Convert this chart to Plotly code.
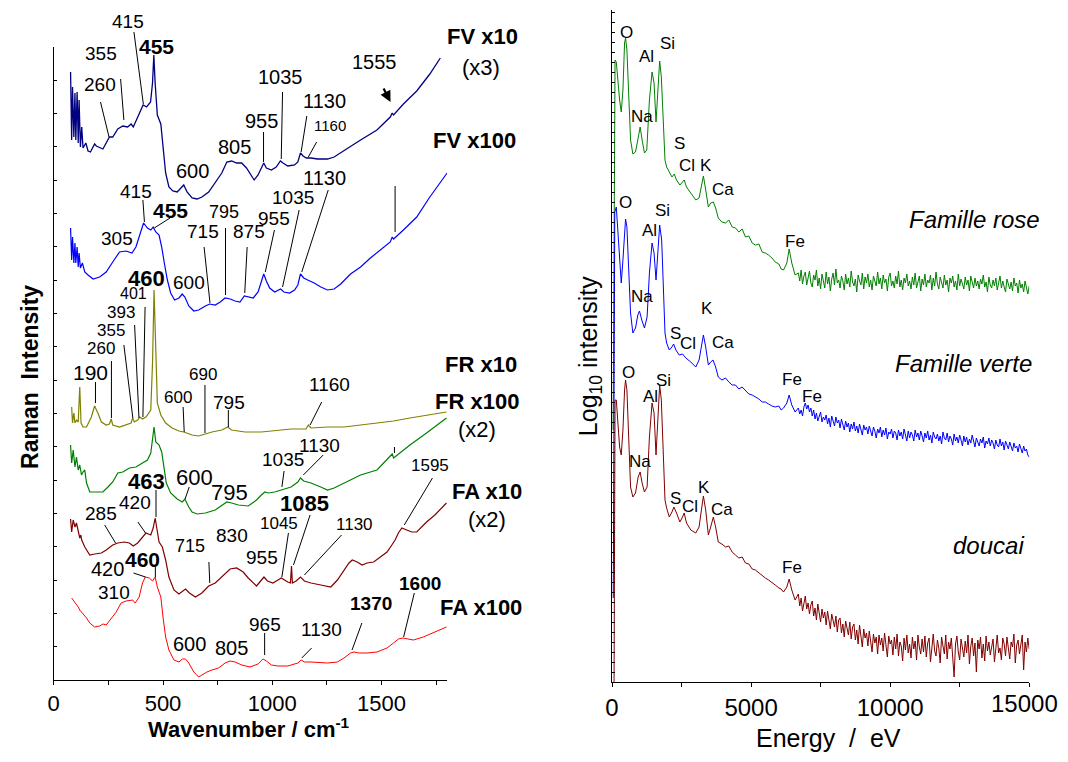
import plotly.graph_objects as go

FONT = "Liberation Sans, Arial, Helvetica, sans-serif"

# ---------------- Raman spectra (wavenumber / cm-1, intensity a.u. incl. offsets) ----------------
FV10_W = [77,82,86,92,97,101,107,112,116,122,128,134,147,157,168,187,195,225,255,270,
          293,316,338,354,364,384,409,425,443,452,458,464,474,490,500,512,527,545,565,580,
          595,610,633,656,678,709,739,769,792,814,837,860,882,898,917,935,950,961,973,996,
          1018,1037,1049,1071,1102,1117,1129,1141,1156,1177,1207,1253,1283,1328,1404,1479,1540,1549,1555,1600,
          1661,1721,1769]
FV10_I = [608,540,593,543,587,540,588,537,580,533,553,532,537,529,528,536,534,531,543,543,
          551,554,553,556,553,563,575,573,578,597,625,597,565,556,530,507,493,489,488,492,
          495,488,482,481,483,488,497,507,518,519,517,517,512,507,500,505,513,517,512,510,
          513,519,517,514,515,518,527,524,522,522,521,521,523,529,540,550,563,567,565,576,
          589,606,622]

FV100_W = [77,82,86,92,97,101,107,112,116,122,131,142,157,180,210,240,270,301,331,358,
           376,391,411,429,444,455,467,482,494,506,520,535,553,573,588,600,618,641,663,694,
           713,739,762,784,807,830,852,872,893,913,935,950,961,973,988,1011,1038,1053,1079,1102,
           1117,1129,1144,1162,1192,1222,1253,1283,1313,1358,1404,1449,1494,1540,1549,1555,1600,1661,1721,1800]
FV100_I = [452,420,443,417,437,417,433,413,427,412,417,408,405,401,403,408,418,428,429,427,
           433,443,457,452,450,453,448,445,433,417,400,387,380,382,386,383,374,369,370,374,
           376,375,378,382,381,379,378,384,383,382,388,400,406,399,392,388,391,388,387,390,
           395,406,402,400,397,393,390,391,396,406,413,422,430,438,443,441,450,463,483,507]

FR10_W = [82,86,92,97,104,112,119,125,134,150,172,187,202,218,240,255,263,270,301,331,
          354,361,369,384,394,406,422,444,452,459,467,474,490,512,542,573,595,633,663,691,
          724,769,796,814,875,950,1026,1086,1154,1165,1177,1253,1328,1404,1479,1555,1630,1706,1797]
FR10_I = [273,257,267,257,260,258,293,257,253,253,263,274,267,258,255,256,261,255,253,255,
          257,262,258,260,263,261,263,270,317,390,317,277,265,257,252,249,248,245,244,246,
          248,250,253,250,248,248,250,251,251,255,252,253,253,255,257,259,262,265,268]

FR100_W = [77,82,89,97,104,112,119,127,134,142,150,165,195,225,248,270,293,316,346,376,
           406,429,444,452,459,467,482,494,505,515,535,565,588,600,618,633,656,694,739,769,
           792,814,845,890,928,950,966,981,1011,1041,1086,1117,1129,1144,1177,1222,1253,1283,1328,1404,
           1479,1549,1555,1630,1706,1797]
FR100_I = [235,217,230,213,223,210,215,205,208,210,197,188,188,188,193,198,207,208,212,213,
           217,220,227,240,253,238,235,228,210,197,187,181,178,181,173,168,166,167,170,175,
           178,177,175,174,180,185,188,187,188,190,193,198,202,199,197,193,190,192,197,205,
           210,226,222,235,247,262]

FA10_W = [77,82,89,97,104,112,119,124,128,142,165,187,218,240,270,293,323,346,364,384,
          406,422,444,455,464,471,482,497,512,527,550,573,591,603,621,648,678,709,739,777,
          807,837,867,890,913,928,943,962,978,1003,1026,1041,1071,1083,1088,1092,1109,1129,1147,1177,
          1222,1268,1298,1328,1351,1366,1389,1411,1434,1464,1494,1525,1547,1562,1577,1593,1615,1638,1661,1683,
          1706,1744,1774,1797]
FA10_I = [161,148,160,153,157,147,142,145,140,133,125,126,127,130,135,137,138,137,134,137,
          143,147,145,152,162,153,138,133,120,103,90,86,89,91,87,83,87,94,97,105,
          111,112,108,102,97,94,98,103,99,97,100,102,98,97,114,97,99,103,99,97,
          95,93,100,110,117,120,118,115,117,118,123,128,135,140,147,152,150,148,148,153,
          158,165,172,177]

FA100_W = [82,97,112,119,127,134,150,165,187,210,225,240,263,286,308,331,361,373,391,406,
           419,437,452,464,474,490,500,512,527,550,573,588,603,618,641,663,678,701,724,754,
           784,807,830,860,898,935,958,973,996,1026,1071,1117,1132,1147,1177,1253,1298,1328,1358,1374,
           1396,1434,1479,1525,1555,1577,1597,1615,1646,1691,1736,1797]
FA100_I = [82,78,73,70,68,66,62,57,53,54,56,55,62,68,77,79,80,77,83,97,
           103,102,99,103,93,83,63,43,30,20,18,21,21,17,8,3,5,8,10,12,
           17,19,18,15,13,16,21,19,15,14,14,17,20,18,18,17,18,22,27,28,
           27,27,28,32,37,41,42,41,40,43,47,53]

# ---------------- EDX spectra (energy / eV, log10 intensity incl. offsets) ----------------
ROSE_E = [40,110,155,214,274,333,393,452,488,536,595,667,750,845,940,1012,1083,1167,1250,1345,
          1440,1512,1583,1643,1714,1774,1845,1905,1964,2060,2155,2238,2321,2440,2595,2679,2833,3012,3131,3214,
          3286,3369,3464,3548,3643,3726,3821,3950,4083,4200,4320,4440,4560,4680,4798,4920,5040,5155,5280,5400,
          5512,5630,5750,5869,6000,6080,6167,6286,6369,6464,6583]
ROSE_V = [2.52,6.22,6.20,5.99,5.82,5.70,5.92,6.39,6.44,6.32,5.82,5.42,5.28,5.30,5.44,5.55,5.42,5.29,5.32,5.82,
          6.10,5.99,5.60,5.89,6.21,6.05,5.59,5.22,5.15,5.10,5.05,5.08,5.02,4.97,5.02,4.95,4.89,4.82,4.84,4.95,
          5.06,4.92,4.75,4.79,4.80,4.74,4.64,4.60,4.59,4.62,4.55,4.54,4.50,4.53,4.45,4.46,4.39,4.37,4.38,4.30,
          4.29,4.27,4.24,4.20,4.18,4.13,4.12,4.19,4.33,4.19,4.07]

VERTE_E = [45,100,155,214,274,333,393,452,488,536,595,667,750,845,929,988,1071,1167,1262,1345,
           1440,1512,1583,1643,1714,1786,1845,1905,1964,2060,2155,2214,2298,2417,2536,2655,2833,3012,3131,3214,
           3286,3369,3464,3548,3631,3726,3821,3950,4083,4200,4320,4440,4560,4680,4798,4920,5040,5155,5280,5400,
           5512,5630,5750,5869,6000,6080,6167,6286,6369,6464,6583]
VERTE_V = [0.84,4.70,4.75,4.49,4.15,3.99,4.22,4.55,4.63,4.55,4.15,3.69,3.49,3.54,3.67,3.71,3.62,3.54,3.65,4.09,
           4.39,4.29,4.02,4.29,4.57,4.42,3.99,3.49,3.39,3.32,3.35,3.38,3.32,3.27,3.28,3.24,3.20,3.15,3.22,3.35,
           3.47,3.35,3.17,3.20,3.22,3.15,3.05,3.02,3.04,3.00,2.97,2.97,2.93,2.95,2.92,2.88,2.87,2.85,2.83,2.80,
           2.80,2.78,2.76,2.75,2.76,2.72,2.74,2.79,2.87,2.77,2.70]

DOUCAI_E = [70,110,155,214,274,333,393,452,488,536,595,667,750,845,940,1012,1083,1167,1262,1345,
            1440,1512,1583,1643,1714,1774,1845,1905,1964,2060,2155,2226,2321,2440,2536,2595,2679,2833,3012,3131,
            3214,3286,3369,3464,3548,3643,3726,3821,3950,4083,4200,4320,4440,4560,4680,4798,4920,5040,5155,5280,
            5400,5512,5630,5750,5869,6000,6080,6167,6286,6369,6464,6583]
DOUCAI_V = [-0.30,2.82,2.82,2.62,2.35,2.27,2.52,2.92,3.02,2.92,2.45,1.95,1.85,1.89,2.05,2.10,1.99,1.90,1.95,2.45,
            2.79,2.69,2.27,2.62,2.97,2.82,2.29,1.82,1.74,1.65,1.70,1.75,1.69,1.60,1.65,1.69,1.59,1.52,1.49,1.55,
            1.72,1.86,1.72,1.47,1.55,1.65,1.55,1.40,1.38,1.35,1.36,1.30,1.27,1.24,1.25,1.19,1.18,1.13,1.12,1.09,
            1.06,1.04,1.02,0.99,0.97,0.94,0.93,0.90,0.95,1.03,0.92,0.82]

# noisy high-energy tails, channels every 50 eV from 6700 to 15000 eV
TAIL_E = list(range(6700, 15001, 50))
ROSE_TAIL = [4.09,4.01,4.12,3.98,4.06,4.10,3.97,4.03,4.11,3.99,
             3.95,4.07,4.02,4.12,3.96,4.04,3.93,4.08,4.00,3.94,
             4.10,3.98,4.05,3.91,4.03,4.09,3.97,4.13,3.99,4.02,
             3.94,4.06,4.01,3.92,4.08,3.98,4.04,3.95,4.11,4.00,
             3.96,4.03,3.90,4.07,4.01,3.97,4.09,3.93,4.05,3.99,
             4.08,3.95,4.02,3.92,4.06,4.00,3.96,4.10,3.98,4.04,
             3.93,4.07,3.99,4.03,3.91,4.05,4.09,3.96,4.01,3.94,
             4.06,3.98,4.11,3.95,4.02,3.92,4.04,3.99,4.08,3.96,
             4.01,3.93,4.05,3.97,4.09,3.94,4.00,4.06,3.91,4.03,
             3.97,4.08,3.95,4.02,3.99,4.07,3.92,4.04,3.96,4.10,
             3.98,3.93,4.05,4.00,3.94,4.07,3.97,4.02,3.90,4.04,
             3.99,4.06,3.95,4.01,3.92,4.08,3.96,4.03,3.98,3.93,
             4.05,3.97,4.02,3.91,4.06,3.99,3.94,4.04,3.96,4.01,
             3.93,4.03,3.98,4.07,3.95,4.00,3.90,4.05,3.97,3.94,
             4.02,3.96,4.04,3.92,3.99,4.06,3.94,4.01,3.95,3.90,
             4.03,3.97,3.93,4.00,3.91,4.04,3.96,3.99,3.89,4.02,
             3.94,3.98,3.90,4.01,3.93,3.88,3.96]
VERTE_TAIL = [2.74,2.68,2.72,2.66,2.75,2.79,2.73,2.77,2.70,2.74,
              2.66,2.72,2.63,2.69,2.61,2.67,2.70,2.60,2.65,2.62,
              2.67,2.58,2.64,2.55,2.66,2.61,2.56,2.65,2.59,2.62,
              2.54,2.63,2.57,2.52,2.61,2.55,2.59,2.50,2.58,2.53,
              2.60,2.51,2.56,2.49,2.58,2.53,2.47,2.57,2.52,2.55,
              2.48,2.56,2.50,2.46,2.55,2.51,2.44,2.53,2.49,2.55,
              2.45,2.52,2.47,2.54,2.43,2.50,2.48,2.53,2.44,2.51,
              2.49,2.42,2.52,2.46,2.50,2.43,2.53,2.47,2.41,2.51,
              2.44,2.50,2.47,2.41,2.52,2.45,2.49,2.42,2.51,2.46,
              2.40,2.49,2.44,2.51,2.42,2.47,2.39,2.50,2.45,2.43,
              2.48,2.41,2.46,2.38,2.50,2.44,2.42,2.49,2.40,2.46,
              2.43,2.37,2.48,2.41,2.45,2.39,2.47,2.42,2.36,2.46,
              2.40,2.45,2.37,2.43,2.39,2.47,2.41,2.35,2.44,2.40,
              2.36,2.43,2.39,2.45,2.34,2.41,2.38,2.44,2.36,2.42,
              2.39,2.33,2.42,2.37,2.35,2.43,2.36,2.40,2.32,2.41,
              2.37,2.33,2.40,2.35,2.31,2.39,2.34,2.36,2.30,2.38,
              2.34,2.29,2.36,2.31,2.33,2.27,2.25]
DOUCAI_TAIL = [0.88,0.76,0.84,0.71,0.80,0.86,0.73,0.79,0.68,0.77,
               0.81,0.66,0.74,0.62,0.78,0.69,0.60,0.73,0.64,0.70,
               0.57,0.71,0.63,0.53,0.68,0.60,0.55,0.66,0.50,0.62,
               0.64,0.49,0.58,0.45,0.61,0.54,0.47,0.60,0.43,0.55,
               0.58,0.42,0.52,0.38,0.57,0.46,0.35,0.53,0.44,0.49,
               0.36,0.51,0.42,0.30,0.48,0.39,0.45,0.28,0.47,0.37,
               0.44,0.31,0.49,0.35,0.25,0.46,0.38,0.42,0.27,0.45,
               0.33,0.48,0.26,0.40,0.36,0.21,0.44,0.32,0.47,0.29,
               0.38,0.24,0.45,0.33,0.41,0.22,0.47,0.35,0.28,0.43,
               0.30,0.46,0.25,0.39,0.44,0.20,0.37,0.48,0.31,0.26,
               0.42,0.34,0.19,0.45,0.36,0.28,0.47,0.23,0.40,0.33,
               0.44,0.27,0.05,0.38,0.46,0.30,0.22,0.43,0.35,0.25,
               0.41,0.29,0.47,0.18,0.36,0.44,0.26,0.39,0.10,0.42,
               0.33,0.45,0.24,0.38,0.21,0.46,0.31,0.40,0.27,0.35,
               0.43,0.20,0.37,0.47,0.29,0.34,0.22,0.44,0.38,0.26,
               0.45,0.31,0.23,0.40,0.35,0.48,0.19,0.37,0.42,0.28,
               0.36,0.47,0.12,0.40,0.30,0.44,0.33]

# ---------------- tick labels ----------------
RAMAN_TICKS = [0, 500, 1000, 1500]
EDX_TICKS = [0, 5000, 10000, 15000]
EDX_TICKTEXT = ["0", "5000", "10000", ""]   # the last label is drawn right-aligned at the page edge
EDX_LAST_LABEL = "15000"

# ---------------- peak labels ----------------
# (text, wavenumber, intensity, font size, bold)
RAMAN_LABELS = [
    ("415", 340, 659, 19, False), ("455", 468, 634, 21, True), ("355", 218, 627, 19, False),
    ("260", 210, 596, 19, False), ("1555", 1468, 618, 20, False), ("1035", 1036, 603, 20, False),
    ("955", 950, 559, 20, False), ("1130", 1238, 579, 20, False), ("1160", 1264, 555, 15, False),
    ("805", 829, 533, 20, False), ("600", 635, 509, 20, False),
    ("FV x10", 1960, 643, 22, True), ("(x3)", 1956, 613, 22, False), ("FV x100", 1927, 540, 22, True),
    ("415", 377, 489, 19, False), ("455", 532, 470, 21, True), ("305", 290, 442, 19, False),
    ("1130", 1238, 502, 20, False), ("1035", 1097, 483, 19, False), ("955", 1006, 462, 19, False),
    ("795", 779, 468, 18, False), ("875", 892, 449, 19, False), ("715", 683, 449, 19, False),
    ("600", 620, 398, 19, False),
    ("460", 423, 402, 22, True), ("401", 365, 387, 16, False), ("393", 309, 367, 17, False),
    ("355", 264, 350, 17, False), ("260", 218, 332, 17, False), ("190", 170, 308, 21, False),
    ("600", 570, 283, 17, False), ("690", 685, 306, 17, False), ("795", 801, 278, 19, False),
    ("1160", 1264, 296, 19, False),
    ("FR x10", 1953, 316, 22, True), ("FR x100", 1938, 279, 22, True), ("(x2)", 1938, 251, 22, False),
    ("1130", 1218, 235, 19, False), ("1035", 1047, 220, 19, False), ("600", 645, 203, 22, False),
    ("795", 806, 188, 22, False),
    ("463", 423, 199, 22, True), ("1595", 1723, 215, 17, False),
    ("FA x10", 1983, 189, 22, True), ("(x2)", 1983, 161, 22, False),
    ("285", 215, 167, 19, False), ("420", 370, 178, 19, False), ("830", 814, 145, 19, False),
    ("715", 623, 134, 18, False), ("1085", 1147, 177, 22, True), ("1045", 1029, 157, 17, False),
    ("955", 953, 123, 19, False), ("1130", 1377, 156, 17, False),
    ("460", 408, 121, 21, True), ("420", 244, 111, 20, False), ("310", 276, 88, 19, False),
    ("1600", 1677, 97, 19, True), ("1370", 1453, 77, 19, True), ("FA x100", 1953, 73, 22, True),
    ("965", 965, 56, 19, False), ("1130", 1226, 51, 19, False), ("600", 623, 36, 20, False),
    ("805", 814, 32, 20, False),
]
# leader lines (w0, I0, w1, I1)
RAMAN_LEADERS = [
    (367,648,410,576), (306,601,321,560), (214,578,253,543), (1047,588,1041,521), (960,548,960,518),
    (1158,564,1132,528), (1203,538,1165,523),
    (408,480,415,458), (532,462,460,452), (1256,490,1135,408), (1123,470,1047,393), (1010,450,968,408),
    (786,452,786,385), (885,433,874,387), (688,433,715,377), (1562,494,1562,448),
    (418,373,408,263), (370,355,390,262), (321,335,362,262), (264,319,264,262), (191,298,191,277),
    (592,273,597,248), (692,295,692,247), (799,270,799,253), (1226,278,1173,255), (1559,233,1559,227),
    (1233,225,1142,205), (1054,209,1044,193), (620,193,601,181),
    (468,190,468,163), (1733,202,1604,155), (233,155,283,137), (385,158,420,147), (710,118,714,97),
    (1173,165,1097,115), (1074,147,1044,103), (1317,145,1147,105),
    (465,113,465,103), (365,107,420,103), (1650,87,1601,43), (1410,57,1365,30), (965,47,965,25),
    (1180,32,1135,22),
]
ARROW_1555 = (1506, 593, 1541, 578)

# (text, energy, log intensity, font size, italic)
EDX_LABELS = [
    ("O", 536, 6.49, 17, False), ("Al", 1226, 6.25, 17, False), ("Si", 2000, 6.38, 17, False),
    ("Na", 1083, 5.65, 17, False), ("S", 2440, 5.39, 17, False), ("Cl", 2714, 5.16, 17, False),
    ("K", 3393, 5.16, 17, False), ("Ca", 4000, 4.92, 17, False), ("Fe", 6583, 4.40, 17, False),
    ("Famille rose", 13045, 4.62, 24, True),
    ("O", 488, 4.79, 17, False), ("Si", 1798, 4.71, 17, False), ("Al", 1345, 4.52, 17, False),
    ("Na", 1083, 3.86, 17, False), ("K", 3428, 3.74, 17, False), ("S", 2274, 3.48, 17, False),
    ("Cl", 2750, 3.39, 17, False), ("Ca", 4000, 3.40, 17, False), ("Fe", 6464, 3.03, 17, False),
    ("Fe", 7202, 2.86, 17, False), ("Famille verte", 12630, 3.19, 24, True),
    ("O", 595, 3.10, 17, False), ("Si", 1857, 3.02, 17, False), ("Al", 1381, 2.86, 17, False),
    ("Na", 1012, 2.21, 17, False), ("K", 3310, 1.95, 17, False), ("S", 2298, 1.84, 17, False),
    ("Cl", 2798, 1.76, 17, False), ("Ca", 3940, 1.73, 17, False), ("Fe", 6464, 1.15, 17, False),
    ("doucai", 13547, 1.37, 24, True),
]

# ---------------- page / axes geometry ----------------
# The page body has an 8 px margin; the figure is sized to fit the 1068x762 window exactly.
VW, VH, OFF = 1068, 762, 8
W, H = VW - 2 * OFF, VH - 2 * OFF


def px(xp):   # window pixel -> paper x
    return (xp - OFF) / W


def py(yp):   # window pixel -> paper y
    return 1 - (yp - OFF) / H


LX = dict(dom=(px(47), px(443)), rng=(0, 1800))
LY = dict(dom=(py(680), py(47)), rng=(0, 633))
RX = dict(dom=(px(609), px(1029)), rng=(0, 15000))
RY = dict(dom=(py(682), py(10)), rng=(0, 6.72))


def to_paper(v, ax):
    d0, d1 = ax["dom"]
    r0, r1 = ax["rng"]
    return d0 + (v - r0) / (r1 - r0) * (d1 - d0)


fig = go.Figure()


def add(x, y, color, xa, ya, width):
    fig.add_trace(go.Scatter(x=x, y=y, mode="lines", line=dict(color=color, width=width),
                             xaxis=xa, yaxis=ya, showlegend=False, hoverinfo="skip"))


add(FV10_W, FV10_I, "#000080", "x", "y", 1.3)
add(FV100_W, FV100_I, "#0000FF", "x", "y", 1.2)
add(FR10_W, FR10_I, "#808000", "x", "y", 1.2)
add(FR100_W, FR100_I, "#008000", "x", "y", 1.2)
add(FA10_W, FA10_I, "#800000", "x", "y", 1.2)
add(FA100_W, FA100_I, "#FF0000", "x", "y", 1.0)

add(ROSE_E + TAIL_E, ROSE_V + ROSE_TAIL, "#008000", "x2", "y2", 1.0)
add(VERTE_E + TAIL_E, VERTE_V + VERTE_TAIL, "#0000FF", "x2", "y2", 1.0)
add(DOUCAI_E + TAIL_E, DOUCAI_V + DOUCAI_TAIL, "#800000", "x2", "y2", 1.0)

annotations = []
for txt, w, i, size, bold in RAMAN_LABELS:
    annotations.append(dict(text=f"<b>{txt}</b>" if bold else txt, xref="paper", yref="paper",
                            x=to_paper(w, LX), y=to_paper(i, LY), showarrow=False,
                            xanchor="center", yanchor="middle",
                            font=dict(family=FONT, size=size, color="black")))
for txt, e, v, size, ital in EDX_LABELS:
    annotations.append(dict(text=f"<i>{txt}</i>" if ital else txt, xref="paper", yref="paper",
                            x=to_paper(e, RX), y=to_paper(v, RY), showarrow=False,
                            xanchor="center", yanchor="middle",
                            font=dict(family=FONT, size=size, color="black")))
a0w, a0i, a1w, a1i = ARROW_1555
hx, hy = to_paper(a1w, LX), to_paper(a1i, LY)
tx, ty = to_paper(a0w, LX), to_paper(a0i, LY)
annotations.append(dict(text="", xref="paper", yref="paper", x=hx, y=hy,
                        ax=(tx - hx) * W, ay=-(ty - hy) * H,
                        showarrow=True, arrowhead=2, arrowsize=1, arrowwidth=2.2, arrowcolor="black"))

# last EDX tick label, kept inside the page
annotations.append(dict(text=EDX_LAST_LABEL, xref="paper", yref="paper", x=1.0, y=py(703),
                        showarrow=False, xanchor="right", yanchor="middle",
                        font=dict(family=FONT, size=24, color="black")))

# axis titles
annotations += [
    dict(text="<b>Wavenumber / cm<sup>-1</sup></b>", xref="paper", yref="paper", x=px(244), y=py(728),
         showarrow=False, xanchor="center", yanchor="middle", font=dict(family=FONT, size=22, color="black")),
    dict(text="<b>Raman\u00a0 Intensity</b>", xref="paper", yref="paper", x=px(23), y=py(377),
         textangle=-90, showarrow=False, xanchor="center", yanchor="middle",
         font=dict(family=FONT, size=23, color="black")),
    dict(text="Energy\u00a0 /\u00a0 eV", xref="paper", yref="paper", x=px(827), y=py(738),
         showarrow=False, xanchor="center", yanchor="middle", font=dict(family=FONT, size=25, color="black")),
    dict(text="Log<sub>10</sub> intensity", xref="paper", yref="paper", x=px(587), y=py(356),
         textangle=-90, showarrow=False, xanchor="center", yanchor="middle",
         font=dict(family=FONT, size=25, color="black")),
]

shapes = []
for w0, i0, w1, i1 in RAMAN_LEADERS:
    shapes.append(dict(type="line", xref="paper", yref="paper",
                       x0=to_paper(w0, LX), y0=to_paper(i0, LY), x1=to_paper(w1, LX), y1=to_paper(i1, LY),
                       line=dict(color="black", width=1)))

axis_common = dict(showline=True, linecolor="black", linewidth=1, showgrid=False, zeroline=False,
                   tickcolor="black", mirror=False)

fig.update_layout(
    width=W, height=H, autosize=False, margin=dict(l=0, r=0, t=0, b=0, pad=0),
    plot_bgcolor="white", paper_bgcolor="white", showlegend=False,
    xaxis=dict(domain=list(LX["dom"]), range=list(LX["rng"]), anchor="y", ticks="outside", ticklen=4,
               tickmode="array", tickvals=RAMAN_TICKS, ticktext=[str(t) for t in RAMAN_TICKS],
               minor=dict(dtick=250, tick0=0, ticks="outside", ticklen=4, tickcolor="black"),
               tickfont=dict(family=FONT, size=22, color="black"), **axis_common),
    yaxis=dict(domain=list(LY["dom"]), range=list(LY["rng"]), anchor="x", ticks="inside", ticklen=3,
               tick0=0, dtick=100 / 3, showticklabels=False, **axis_common),
    xaxis2=dict(domain=list(RX["dom"]), range=list(RX["rng"]), anchor="y2", ticks="outside", ticklen=4,
                tickmode="array", tickvals=EDX_TICKS, ticktext=EDX_TICKTEXT,
                minor=dict(dtick=2500, tick0=0, ticks="outside", ticklen=4, tickcolor="black"),
                tickfont=dict(family=FONT, size=24, color="black"), **axis_common),
    yaxis2=dict(domain=list(RY["dom"]), range=list(RY["rng"]), anchor="x2", ticks="inside", ticklen=3,
                tick0=0, dtick=0.1, showticklabels=False, **axis_common),
    annotations=annotations,
    shapes=shapes,
)

fig.write_html("out.html")
